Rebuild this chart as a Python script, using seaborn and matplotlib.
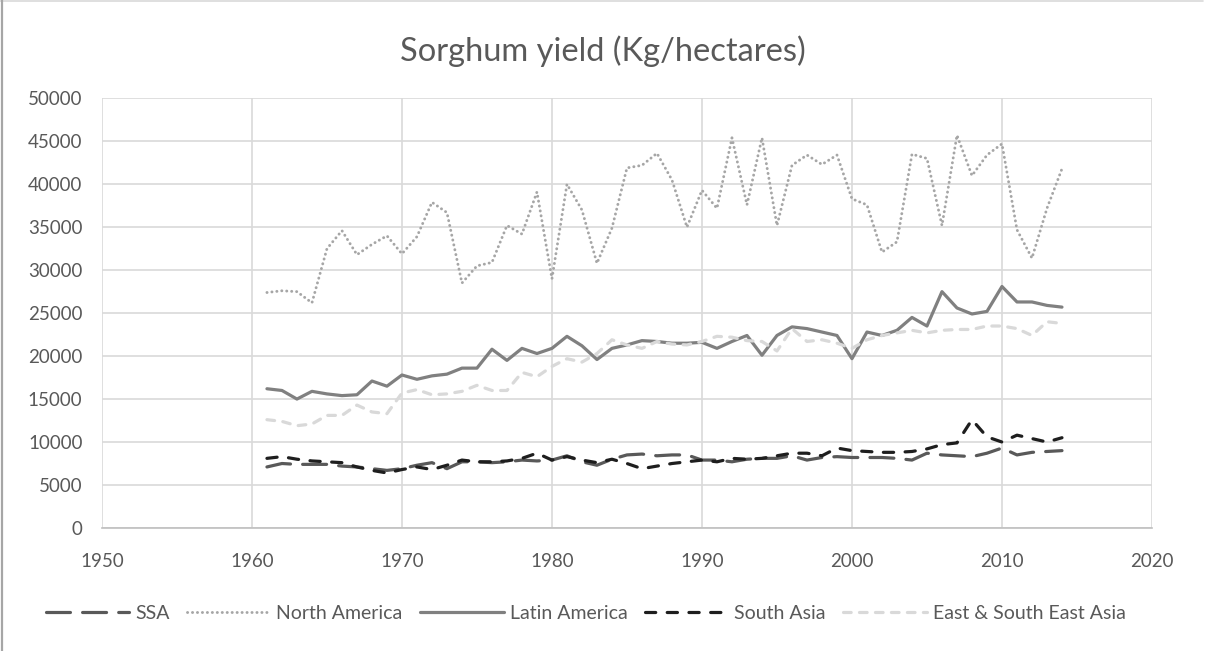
import numpy as np
import pandas as pd
import seaborn as sns
import matplotlib.pyplot as plt

years = list(range(1961, 2015))

ssa = [7100, 7500, 7400, 7400, 7400, 7200, 7100, 6900, 6700, 6900,
       7300, 7600, 6900, 7700, 7700, 7600, 7700, 7900, 7800, 7900,
       8400, 7700, 7300, 8000, 8500, 8600, 8400, 8500, 8500, 7900,
       7900, 7700, 8000, 8100, 8100, 8400, 7900, 8200, 8300, 8200,
       8200, 8200, 8100, 7900, 8700, 8500, 8400, 8300, 8700, 9300,
       8500, 8800, 8900, 9000]

north_america = [27400, 27600, 27500, 26200, 32500, 34600, 31800, 33000, 34000, 31900,
                 33900, 37900, 36700, 28500, 30500, 30900, 35200, 34200, 39100, 29000,
                 40000, 37000, 30800, 34900, 41900, 42200, 43600, 40500, 35000, 39300,
                 37200, 45400, 37600, 45400, 35200, 42200, 43400, 42300, 43400, 38300,
                 37600, 32100, 33300, 43500, 43000, 35200, 45700, 41000, 43400, 44700,
                 34700, 31400, 37200, 41800]

latin_america = [16200, 16000, 15000, 15900, 15600, 15400, 15500, 17100, 16500, 17800,
                 17300, 17700, 17900, 18600, 18600, 20800, 19500, 20900, 20300, 20900,
                 22300, 21200, 19600, 20900, 21300, 21800, 21700, 21500, 21500, 21600,
                 20900, 21700, 22400, 20100, 22400, 23400, 23200, 22800, 22400, 19700,
                 22800, 22400, 23000, 24500, 23500, 27500, 25600, 24900, 25200, 28100,
                 26300, 26300, 25900, 25700]

south_asia = [8100, 8300, 8000, 7800, 7700, 7600, 7100, 6700, 6400, 6800,
              7100, 6800, 7300, 7900, 7700, 7700, 7800, 8100, 8700, 7900,
              8300, 7900, 7600, 8000, 7500, 6900, 7200, 7500, 7700, 7900,
              7700, 8100, 8000, 8100, 8400, 8700, 8700, 8400, 9300, 9000,
              8900, 8800, 8800, 8900, 9200, 9700, 9900, 12600, 10600, 10000,
              10800, 10400, 10000, 10500]

east_asia = [12600, 12400, 11900, 12100, 13100, 13100, 14300, 13500, 13300, 15700,
             16100, 15500, 15600, 15900, 16600, 16000, 16000, 18100, 17600, 18800,
             19700, 19300, 20300, 21900, 21300, 20900, 21700, 21400, 21300, 21700,
             22300, 22200, 21800, 21700, 20600, 23200, 21700, 21900, 21500, 20900,
             21900, 22400, 22700, 23000, 22700, 23000, 23100, 23100, 23500, 23500,
             23200, 22400, 24000, 23800]

series_names = ["SSA", "North America", "Latin America", "South Asia",
                "East & South East Asia"]

df = pd.DataFrame({"year": years, "SSA": ssa, "North America": north_america,
                   "Latin America": latin_america, "South Asia": south_asia,
                   "East & South East Asia": east_asia})
long_df = df.melt(id_vars="year", var_name="region", value_name="yield")

styles = {
    "SSA": dict(color="#595959", dashes=(7.5, 3.8), lw=2.3),
    "North America": dict(color="#A6A6A6", dashes=(0.05, 1.65), lw=2.1),
    "Latin America": dict(color="#808080", dashes=None, lw=2.3),
    "South Asia": dict(color="#1E1E1E", dashes=(3.2, 3.6), lw=2.3),
    "East & South East Asia": dict(color="#D9D9D9", dashes=(2.4, 2.6), lw=2.3),
}

sns.set_style("white")
plt.rcParams['font.family'] = ['Lato', 'DejaVu Sans']

fig = plt.figure(figsize=(12.05, 6.51), dpi=100)
ax = fig.add_axes([0.0846, 0.189, 0.8714, 0.660])

for name in series_names:
    st = styles[name]
    sub = long_df[long_df["region"] == name]
    sns.lineplot(data=sub, x="year", y="yield", ax=ax, color=st["color"],
                 linewidth=st["lw"], label=name, legend=False)
    line = ax.lines[-1]
    line.set_solid_capstyle("round")
    line.set_dash_capstyle("round")
    if st["dashes"] is not None:
        line.set_dashes(st["dashes"])

ax.set_xlim(1950, 2020)
ax.set_ylim(0, 50000)
ax.set_xticks(range(1950, 2021, 10))
ax.set_yticks(range(0, 50001, 5000))
ax.grid(True, color="#D9D9D9", linewidth=1.2)
ax.set_axisbelow(True)
for side in ["top", "right", "left"]:
    ax.spines[side].set_visible(False)
ax.spines["bottom"].set_color("#BFBFBF")
ax.spines["bottom"].set_linewidth(1.2)
ax.tick_params(axis="both", length=0, labelsize=13.5, labelcolor="#595959")
ax.tick_params(axis="x", pad=18)
ax.tick_params(axis="y", pad=14)
ax.set_xlabel("")
ax.set_ylabel("")

fig.suptitle("Sorghum yield (Kg/hectares)", y=0.945, fontsize=23.5,
             color="#595959")

handles, labels = ax.get_legend_handles_labels()
fig.legend(handles, labels, loc="center", bbox_to_anchor=(0.486, 0.058),
           ncol=5, frameon=False, fontsize=14, labelcolor="#595959",
           handlelength=4.3, handletextpad=0.3, columnspacing=0.9)

# chart frame: only the top and left edges are inside the picture
fig.add_artist(plt.Line2D([0.0, 0.998], [0.999, 0.999], transform=fig.transFigure,
                          color="#D9D9D9", linewidth=1.2))
fig.add_artist(plt.Line2D([0.0017, 0.0017], [0.0, 1.0], transform=fig.transFigure,
                          color="#A6A6A6", linewidth=1.6))

fig.savefig("out.png", dpi=100)
